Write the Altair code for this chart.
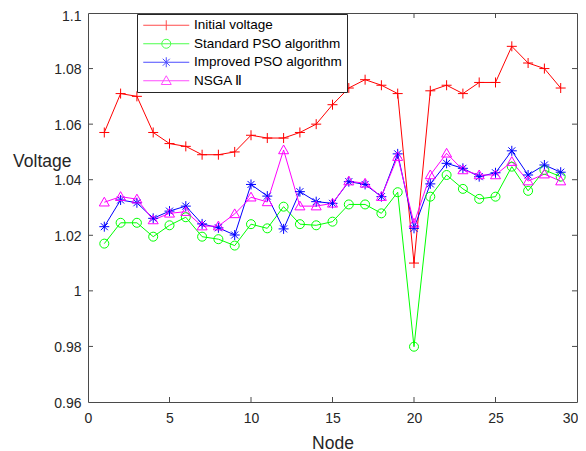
import altair as alt
import pandas as pd

nodes = list(range(1, 30))
names = ["Initial voltage", "Standard PSO algorithm", "Improved PSO algorithm", "NSGA Ⅱ"]
initial = [1.057, 1.071, 1.070, 1.057, 1.053, 1.052, 1.049, 1.049, 1.050, 1.056,
           1.055, 1.055, 1.057, 1.060, 1.067, 1.073, 1.076, 1.074, 1.071, 1.010,
           1.072, 1.074, 1.071, 1.075, 1.075, 1.088, 1.082, 1.080, 1.073]
standard = [1.017, 1.0245, 1.0245, 1.0195, 1.0236, 1.0265, 1.0195, 1.0186, 1.0163, 1.024,
            1.0225, 1.0303, 1.024, 1.0236, 1.0249, 1.0311, 1.0311, 1.0279, 1.0355, 0.9799,
            1.0339, 1.0417, 1.0367, 1.0331, 1.0339, 1.0447, 1.036, 1.0435, 1.0411]
improved = [1.0231, 1.0327, 1.0317, 1.0261, 1.0287, 1.0305, 1.0241, 1.0227, 1.0201, 1.0383,
            1.0341, 1.0223, 1.0357, 1.0321, 1.0315, 1.0393, 1.0383, 1.0339, 1.0493, 1.0225,
            1.0385, 1.0459, 1.0441, 1.0411, 1.0425, 1.0504, 1.0417, 1.0453, 1.0427]
nsga = [1.0319, 1.0339, 1.033, 1.0255, 1.0279, 1.0285, 1.0233, 1.0233, 1.0277, 1.0337,
        1.032, 1.0507, 1.0305, 1.0305, 1.0315, 1.0395, 1.0387, 1.0339, 1.0483, 1.0243,
        1.0417, 1.0495, 1.0435, 1.0417, 1.0417, 1.0465, 1.0395, 1.042, 1.0395]

x_labels = [0, 5, 10, 15, 20, 25, 30]
y_labels = [0.96, 0.98, 1.0, 1.02, 1.04, 1.06, 1.08, 1.1]
x_inner = [5, 10, 15, 20, 25]
y_inner = [0.98, 1.0, 1.02, 1.04, 1.06, 1.08]

colors = ["#ff0000", "#00ff00", "#0000ff", "#ff00ff"]
marker_paths = [
    "M-1,0H1M0,-1V1",
    "M0.9,0A0.9,0.9 0 1,1 -0.9,0A0.9,0.9 0 1,1 0.9,0Z",
    "M-1,0H1M0,-1V1M-0.7,-0.7L0.7,0.7M-0.7,0.7L0.7,-0.7",
    "M0,-1L1,0.75L-1,0.75Z",
]
legend_paths = [
    "M-1,0H8.2M3.6,-1V1",
    "M-1,0H8.2M4.5,0A0.9,0.9 0 1,1 2.7,0A0.9,0.9 0 1,1 4.5,0",
    "M-1,0H8.2M3.6,-1V1M2.9,-0.7L4.3,0.7M2.9,0.7L4.3,-0.7",
    "M-1,0H8.2M3.6,-1L4.6,0.75L2.6,0.75Z",
]

rows = []
for name, vals in zip(names, [initial, standard, improved, nsga]):
    for n, v in zip(nodes, vals):
        rows.append({"node": n, "value": v, "series": name})
df = pd.DataFrame(rows)

W, H = 489, 389
AX = "#262626"
BOX = "#4a4a4a"
FONT = "Liberation Sans"

xs = alt.Scale(domain=[0, 30], nice=False, zero=False)
ys = alt.Scale(domain=[0.96, 1.1], nice=False, zero=False)

x_enc = alt.X("node:Q", scale=xs, axis=alt.Axis(
    values=x_labels, format="d", title="Node", ticks=False, domain=False, grid=False,
    labelFlush=False,
    labelOffset={"condition": {"test": "datum.value > 29", "value": -7}, "value": 0},
    labelFontSize=14, labelPadding=9, titleFontSize=17.5, titleFontWeight="normal",
    titleY=46, titleBaseline="alphabetic"))
y_enc = alt.Y("value:Q", scale=ys, axis=alt.Axis(
    values=y_labels, format="~g", title="Voltage", ticks=False, domain=False, grid=False,
    labelFontSize=14, labelPadding=7, titleFontSize=17.5, titleFontWeight="normal",
    labelOffset={"condition": {"test": "datum.value > 1.09", "value": 3}, "value": 1},
    titleAngle=0, titleAlign="right", titleBaseline="alphabetic", titleX=-17, titleY=153))

color_nolegend = alt.Color("series:N", scale=alt.Scale(domain=names, range=colors), legend=None)

lines = alt.Chart(df).mark_line(strokeWidth=1).encode(x=x_enc, y=y_enc, color=color_nolegend)

points = alt.Chart(df).mark_point(filled=False, size=100, strokeWidth=1, opacity=1).encode(
    x=x_enc, y=y_enc, color=color_nolegend,
    shape=alt.Shape("series:N", scale=alt.Scale(domain=names, range=marker_paths), legend=None))

leg = alt.Legend(title=None, orient="none", legendX=49, legendY=1, symbolSize=100,
                 symbolStrokeWidth=1, labelOffset=39, labelFontSize=13.5, labelFont=FONT,
                 labelColor="#000000", padding=4.5, rowPadding=3.5, strokeColor=AX,
                 fillColor="white", labelLimit=0)

decoy = alt.Chart(df).mark_point(filled=False, strokeWidth=1).encode(
    x=x_enc, y=y_enc,
    color=alt.Color("series:N", scale=alt.Scale(domain=names, range=colors), legend=leg),
    shape=alt.Shape("series:N", scale=alt.Scale(domain=names, range=legend_paths), legend=leg),
).transform_filter("datum.value > 5")

xt = pd.DataFrame({"node": x_inner})
yt = pd.DataFrame({"value": y_inner})
tick_x_bottom = alt.Chart(xt).mark_rule(color=BOX, strokeWidth=1).encode(
    x=x_enc, y=alt.value(H), y2=alt.value(H - 5))
tick_x_top = alt.Chart(xt).mark_rule(color=BOX, strokeWidth=1).encode(
    x=x_enc, y=alt.value(0), y2=alt.value(5))
tick_y_left = alt.Chart(yt).mark_rule(color=BOX, strokeWidth=1).encode(
    y=y_enc, x=alt.value(0), x2=alt.value(5))
tick_y_right = alt.Chart(yt).mark_rule(color=BOX, strokeWidth=1).encode(
    y=y_enc, x=alt.value(W), x2=alt.value(W - 5))

chart = alt.layer(
    tick_x_bottom, tick_x_top, tick_y_left, tick_y_right, lines, points, decoy
).resolve_scale(color="independent", shape="independent").properties(
    width=W, height=H,
    autosize=alt.AutoSizeParams(type="none"),
    padding={"left": 80, "top": 5, "right": 1, "bottom": 49},
    background="white",
).configure_view(stroke=BOX, strokeWidth=1).configure_axis(
    labelFont=FONT, titleFont=FONT, labelColor=AX, titleColor=AX)

chart.save("out.html", embed_options={"renderer": "svg", "actions": False})
